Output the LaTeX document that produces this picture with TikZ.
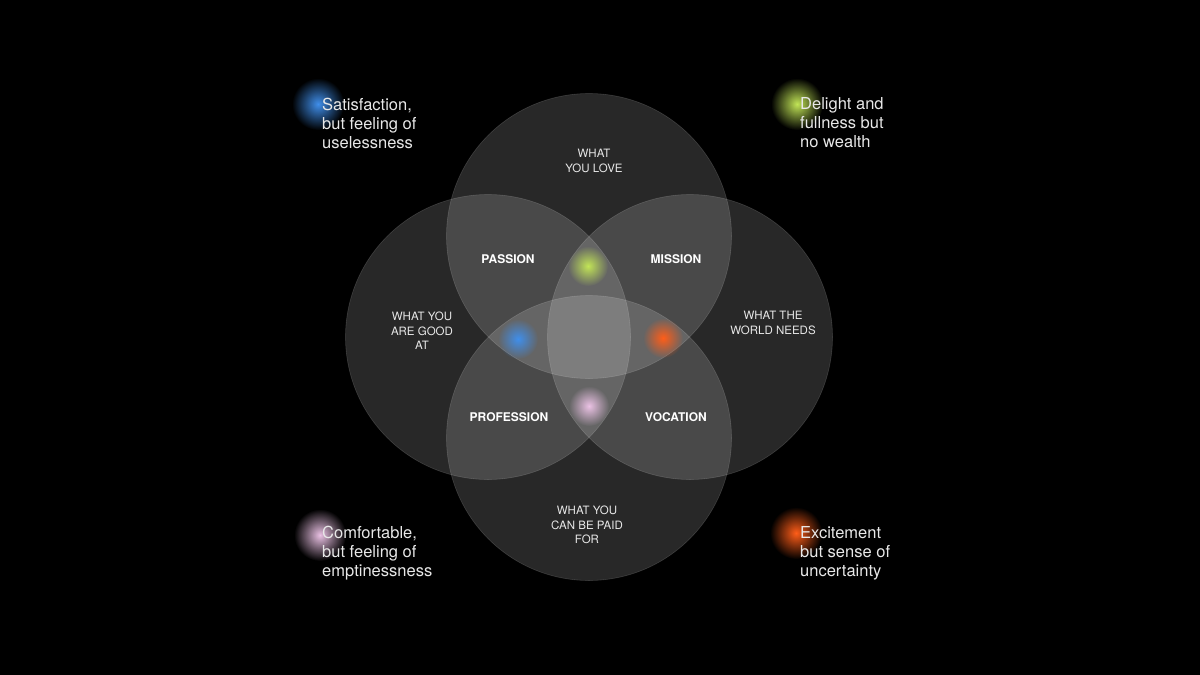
\documentclass[tikz,border=0pt]{standalone}
\usepackage{fontspec}
\setmainfont{TeX Gyre Heros}
\usetikzlibrary{shapes, calc, positioning, fadings}
\definecolor{ikigaiblue}{rgb}{0.25, 0.56, 0.92}
\definecolor{ikigaigreen}{rgb}{0.76, 0.90, 0.34}
\definecolor{ikigaiorange}{rgb}{1.0, 0.37, 0.10}
\definecolor{ikigaipink}{rgb}{0.92, 0.76, 0.90}
\definecolor{ikigaitext}{rgb}{0.91, 0.91, 0.91}
\tikzfading[name=glowfade, inner color=transparent!0, outer color=transparent!100]

\begin{document}
\begin{tikzpicture}[x=1pt, y=-1pt]
    \fill[black] (0,0) rectangle (1200,675);
    \useasboundingbox (0,0) rectangle (1200,675);
    \begin{scope}[every node/.style = {circle, inner sep=0pt, minimum size=285pt, fill=white, fill opacity=0.155, draw=white, draw opacity=0.15, line width=0.6pt}]
        \node (love) at (589,236) {};
        \node (good) at (488,337) {};
        \node (needs) at (690,337) {};
        \node (paid) at (589,438) {};
    \end{scope}
    \foreach \x/\y/\r/\c in {588/266/20/ikigaigreen, 518/339/20/ikigaiblue, 663/338/20/ikigaiorange, 589/406/20/ikigaipink,
                             318/104/26/ikigaiblue, 797/104/26/ikigaigreen, 320/535/26/ikigaipink, 796/533/26/ikigaiorange}{
        \fill[\c, path fading=glowfade] (\x,\y) circle (\r);
    }
    \begin{scope}[every node/.style = {align=center, text=ikigaitext, font=\fontsize{11.5}{14.5}\selectfont}]
        \node (Llove) at (594,161) {WHAT\\YOU LOVE};
        \node (Lgood) at (422,331) {WHAT YOU\\ARE GOOD\\AT};
        \node (Lneeds) at (773,323) {WHAT THE\\WORLD NEEDS};
        \node (Lpaid) at (587,525) {WHAT YOU\\CAN BE PAID\\FOR};
    \end{scope}
    \begin{scope}[every node/.style = {text=white, font=\fontsize{12}{14}\selectfont\bfseries}]
        \node (passion) at (508,259) {PASSION};
        \node (mission) at (676,259) {MISSION};
        \node (profession) at (509,417) {PROFESSION};
        \node (vocation) at (676,417) {VOCATION};
    \end{scope}
    \begin{scope}[every node/.style = {anchor=west, align=left, inner sep=0pt, text=ikigaitext, font=\fontsize{16.5}{19}\selectfont}]
        \node (satisfaction) at (322,123) {Satisfaction,\\but feeling of\\uselessness};
        \node (delight) at (800,123) {Delight and\\fullness but\\no wealth};
        \node (comfortable) at (322,553) {Comfortable,\\but feeling of\\emptinessness};
        \node (excitement) at (800,553) {Excitement\\but sense of\\uncertainty};
    \end{scope}
\end{tikzpicture}
\end{document}
